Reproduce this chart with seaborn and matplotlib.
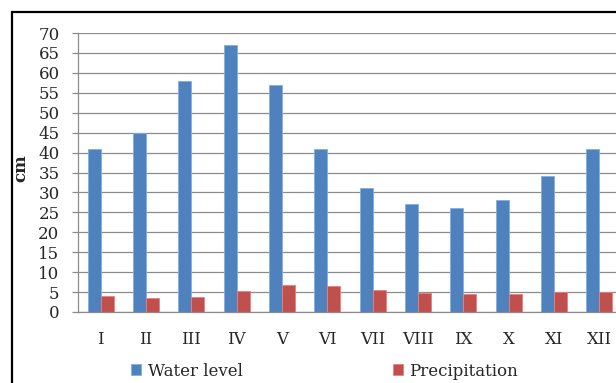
import matplotlib
matplotlib.use("Agg")
import matplotlib.pyplot as plt
import seaborn as sns
import pandas as pd
from matplotlib.patches import Rectangle

months = ["I", "II", "III", "IV", "V", "VI", "VII", "VIII", "IX", "X", "XI", "XII"]
water_level = [41, 45, 58, 67, 57, 41, 31, 27, 26, 28, 34, 41]
precipitation = [4.1, 3.6, 3.85, 5.2, 6.7, 6.5, 5.5, 4.8, 4.5, 4.5, 5.1, 5.1]
series_names = ["Water level", "Precipitation"]
y_ticks = list(range(0, 75, 5))

df = pd.DataFrame({
    "month": months * 2,
    "value": water_level + precipitation,
    "series": [series_names[0]] * len(months) + [series_names[1]] * len(months),
})

sns.set_style("white")
plt.rcParams["font.family"] = ["DejaVu Serif"]

blue = "#4F81BD"
red = "#C0504D"
grid_c = "#8C8C8C"

fig = plt.figure(figsize=(6.16, 3.83), dpi=100)
ax_w = (622 - 78) / 616
ax = fig.add_axes([78 / 616, 1 - 312 / 383, ax_w, (312 - 33) / 383])

sns.barplot(data=df, x="month", y="value", hue="series", order=months,
            hue_order=series_names, palette=[blue, red], width=0.58,
            ax=ax, saturation=1, edgecolor="none")

# light edges
for patch in ax.patches:
    fc = patch.get_facecolor()
    ec = tuple(min(1, c + 0.18) for c in fc[:3])
    patch.set_edgecolor(ec)
    patch.set_linewidth(0.6)

handles, labels = ax.get_legend_handles_labels()
if ax.get_legend() is not None:
    ax.get_legend().remove()

ax.set_ylim(0, 70)
ax.set_xlim(-0.5, 11.5)
ax.set_yticks(y_ticks)
ax.set_yticklabels([str(t) for t in y_ticks])
ax.yaxis.grid(True, color=grid_c, linewidth=0.9)
ax.set_axisbelow(True)
for s in ["top", "right"]:
    ax.spines[s].set_visible(False)
for s in ["left", "bottom"]:
    ax.spines[s].set_color(grid_c)
    ax.spines[s].set_linewidth(0.9)
ax.tick_params(axis="y", length=4.3, width=0.9, color=grid_c, pad=9, labelsize=12, left=True)
ax.tick_params(axis="x", length=0, pad=14, labelsize=12)
ax.set_xlabel("")
ax.set_ylabel("cm", fontsize=12, fontweight="bold")
ax.yaxis.set_label_coords((29 - 78) / 616 / ax_w, (312 - 168) / 279)

leg = fig.legend(handles, labels, loc="center", bbox_to_anchor=(0.527, 0.031),
                 ncol=2, frameon=False, fontsize=12, handlelength=0.6,
                 handleheight=0.6, handletextpad=0.4, columnspacing=9.0,
                 borderaxespad=0, borderpad=0)

# chart-area frame (cropped on the right and bottom)
fig.patches.append(Rectangle((12 / 616, -0.2), 1.5, 1 - 12 / 383 + 0.2,
                             transform=fig.transFigure, fill=False,
                             edgecolor="black", linewidth=1.6, zorder=10))

fig.savefig("out.png", dpi=100)
